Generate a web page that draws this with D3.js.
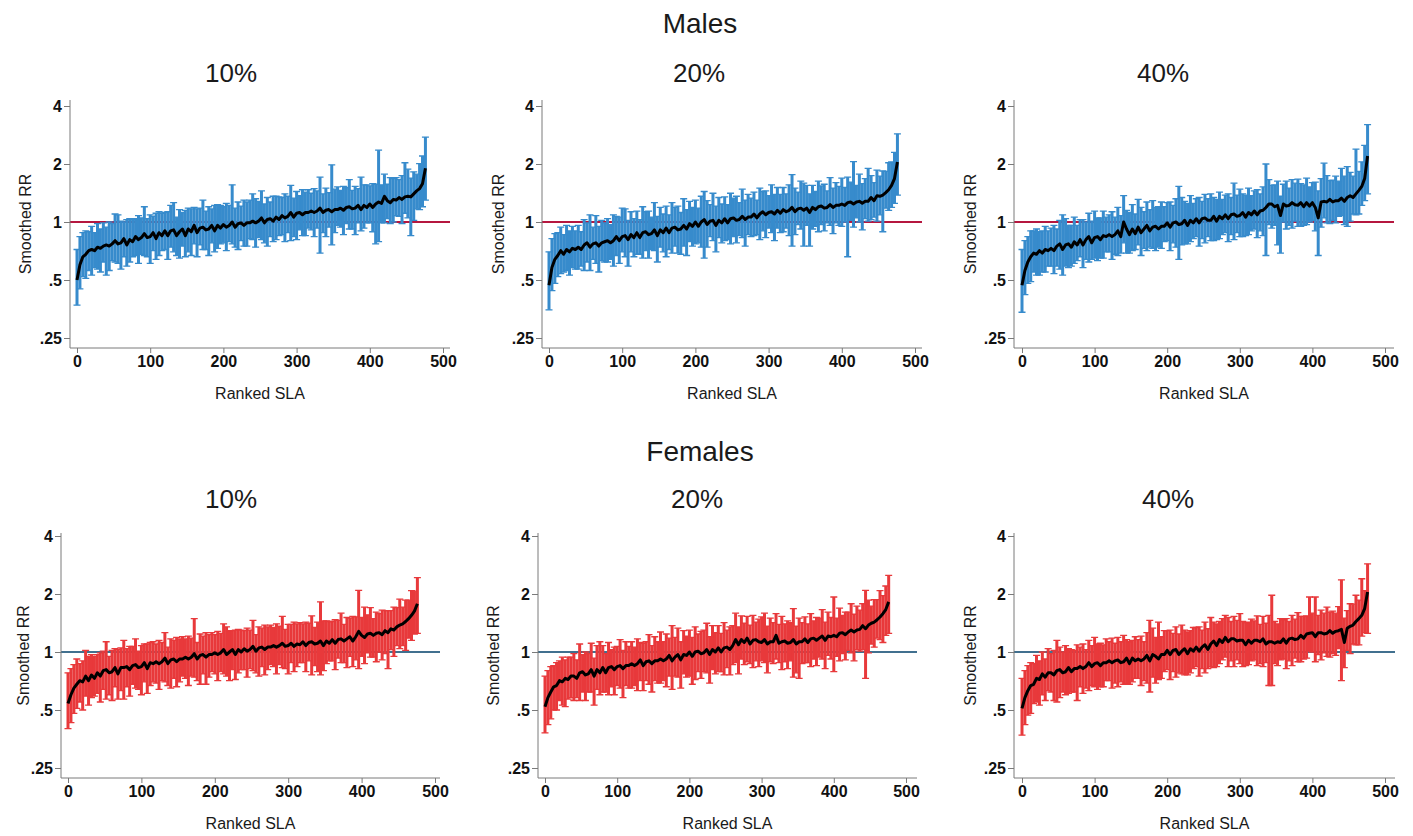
<!DOCTYPE html>
<html>
<head>
<meta charset="utf-8">
<script src="https://cdn.jsdelivr.net/npm/d3@7"></script>
<style>
  body { margin: 0; background: #fff; }
  svg { display: block; }
</style>
</head>
<body>
<svg id="chart" width="1413" height="836"></svg>
<script>
// ---------------------------------------------------------------------------
//  Data: smoothed RR and interval, one value every 4th ranked SLA
// ---------------------------------------------------------------------------
const rank = d3.range(0, 477, 4);
const xTicks = [0, 100, 200, 300, 400, 500];
const yTicks = [0.25, 0.5, 1, 2, 4];
const yTickLabels = ['.25', '.5', '1', '2', '4'];

// Males 10%
const m10Rr = [.50,.60,.66,.68,.71,.72,.71,.74,.73,.75,
  .76,.75,.77,.80,.77,.78,.82,.76,.81,.79,
  .84,.81,.83,.87,.83,.84,.88,.82,.88,.85,
  .90,.85,.90,.91,.85,.89,.92,.85,.92,.89,
  .96,.88,.93,.94,.91,.92,.96,.90,.96,.93,
  .97,.94,.96,1.00,.94,.98,.99,.96,.99,.99,
  1.01,.99,1.01,1.05,.99,1.03,1.04,1.01,1.06,1.03,
  1.08,1.05,1.07,1.12,1.06,1.11,1.12,1.09,1.12,1.12,
  1.14,1.12,1.14,1.18,1.12,1.15,1.16,1.13,1.16,1.16,
  1.18,1.15,1.19,1.20,1.17,1.18,1.22,1.16,1.22,1.19,
  1.24,1.19,1.24,1.27,1.25,1.36,1.29,1.26,1.31,1.30,
  1.34,1.31,1.35,1.36,1.35,1.40,1.45,1.49,1.58,1.90];
const m10Hi = [.72,.84,.88,.90,.89,.95,.88,.98,.92,.99,
  .94,1.00,.98,1.10,1.09,1.01,1.00,1.03,1.04,1.03,
  1.04,1.08,1.05,1.20,1.04,1.09,1.07,1.11,1.13,1.11,
  1.12,1.13,1.22,1.26,1.06,1.16,1.12,1.15,1.18,1.17,
  1.19,1.17,1.18,1.30,1.14,1.20,1.17,1.22,1.23,1.22,
  1.20,1.25,1.22,1.56,1.18,1.27,1.21,1.30,1.27,1.30,
  1.40,1.32,1.28,1.45,1.24,1.34,1.27,1.36,1.36,1.35,
  1.34,1.40,1.36,1.55,1.33,1.44,1.37,1.47,1.43,1.47,
  1.41,1.49,1.45,1.71,1.40,1.50,1.42,1.98,1.48,1.52,
  1.46,1.53,1.51,1.66,1.46,1.53,1.49,1.71,1.56,1.56,
  1.54,1.58,1.57,2.36,1.56,1.77,1.57,1.70,1.68,1.70,
  1.66,1.74,2.03,1.88,1.69,1.82,1.77,2.01,2.20,2.76];
const m10Lo = [.37,.45,.52,.51,.56,.53,.58,.57,.55,.62,
  .53,.56,.63,.62,.61,.57,.66,.59,.62,.66,
  .67,.61,.68,.67,.66,.61,.71,.64,.67,.71,
  .72,.64,.74,.70,.67,.65,.75,.66,.70,.67,
  .77,.66,.76,.72,.72,.67,.78,.70,.73,.77,
  .78,.71,.79,.77,.74,.72,.80,.75,.75,.82,
  .81,.74,.83,.81,.78,.75,.84,.79,.81,.85,
  .86,.79,.88,.80,.84,.81,.91,.85,.85,.93,
  .91,.84,.93,.69,.88,.84,.94,.76,.88,.96,
  .94,.86,.98,.92,.92,.86,.99,.90,.93,.99,
  .99,.89,.77,.79,.99,.99,1.04,.98,1.00,1.08,
  1.07,.98,1.11,1.05,.85,1.02,1.17,1.16,1.20,1.30];

// Males 20%
const m20Rr = [.47,.58,.64,.67,.71,.68,.72,.70,.73,.72,
  .74,.72,.76,.78,.74,.77,.78,.75,.78,.79,
  .80,.78,.80,.84,.80,.84,.85,.81,.86,.83,
  .88,.83,.88,.89,.86,.87,.91,.85,.91,.88,
  .93,.88,.93,.94,.91,.92,.96,.92,.98,.95,
  1.00,.95,1.00,1.03,.97,1.01,1.02,.96,1.02,.99,
  1.04,.99,1.04,1.05,1.02,1.03,1.07,1.03,1.06,1.06,
  1.10,1.05,1.10,1.13,1.09,1.12,1.13,1.10,1.15,1.11,
  1.16,1.13,1.15,1.19,1.13,1.17,1.18,1.15,1.18,1.12,
  1.19,1.16,1.20,1.21,1.18,1.19,1.23,1.19,1.22,1.22,
  1.24,1.22,1.26,1.27,1.24,1.27,1.28,1.25,1.28,1.28,
  1.34,1.29,1.37,1.36,1.38,1.42,1.47,1.55,1.68,2.05];
const m20Hi = [.70,.82,.87,.88,.94,.86,.96,.90,.95,.90,
  .96,.89,1.03,.99,1.09,.94,1.08,.95,1.02,.99,
  1.04,.97,1.09,1.07,1.06,1.18,1.17,1.02,1.13,1.04,
  1.14,1.03,1.20,1.13,1.14,1.06,1.26,1.07,1.19,1.10,
  1.21,1.09,1.26,1.19,1.21,1.12,1.32,1.16,1.28,1.19,
  1.30,1.18,1.36,1.44,1.29,1.23,1.41,1.21,1.34,1.24,
  1.35,1.23,1.41,1.33,1.36,1.26,1.48,1.30,1.39,1.33,
  1.43,1.30,1.50,1.44,1.45,1.37,1.56,1.39,1.51,1.39,
  1.51,1.40,1.56,1.76,1.50,1.43,1.63,1.59,1.55,1.40,
  1.55,1.44,1.63,1.54,1.57,1.45,1.70,1.50,1.60,1.53,
  1.69,1.51,1.71,1.61,2.06,1.55,1.77,1.58,1.68,1.90,
  1.74,1.60,1.86,1.73,1.84,1.83,2.03,2.05,2.30,2.87];
const m20Lo = [.35,.44,.48,.52,.54,.55,.56,.53,.58,.57,
  .57,.59,.56,.62,.56,.64,.61,.55,.63,.62,
  .62,.64,.59,.67,.61,.70,.66,.59,.70,.66,
  .68,.68,.65,.71,.65,.72,.71,.62,.74,.70,
  .66,.72,.69,.75,.69,.68,.75,.67,.79,.75,
  .77,.78,.74,.65,.74,.84,.80,.70,.83,.78,
  .80,.81,.77,.84,.78,.85,.83,.75,.86,.84,
  .85,.86,.81,.90,.83,.93,.88,.80,.93,.88,
  .89,.93,.85,.75,.86,.97,.92,.75,.96,.75,
  .92,.95,.89,.97,.90,.99,.96,.87,.99,.96,
  .95,1.00,.66,1.02,.94,1.05,1.00,.91,1.04,1.01,
  1.03,1.06,1.01,1.09,.89,1.18,1.15,1.19,1.25,1.38];

// Males 40%
const m40Rr = [.47,.56,.62,.66,.69,.68,.71,.69,.72,.71,
  .73,.71,.75,.77,.72,.76,.77,.74,.79,.76,
  .81,.76,.81,.84,.78,.83,.84,.81,.85,.84,
  .86,.84,.86,.90,.84,1.00,.92,.86,.92,.87,
  .94,.88,.92,.96,.90,.94,.95,.92,.95,.95,
  .99,.94,.99,1.00,.97,.98,1.02,.96,1.02,.99,
  1.04,.99,1.04,1.05,1.02,1.02,1.07,1.01,1.07,1.04,
  1.09,1.04,1.09,1.10,1.07,1.08,1.12,1.06,1.12,1.09,
  1.14,1.09,1.14,1.15,1.19,1.24,1.24,1.20,1.22,1.08,
  1.24,1.21,1.22,1.26,1.23,1.22,1.26,1.20,1.26,1.21,
  1.26,1.19,1.05,1.27,1.28,1.27,1.31,1.27,1.29,1.29,
  1.33,1.28,1.34,1.37,1.34,1.40,1.46,1.53,1.68,2.20];
const m40Hi = [.72,.80,.84,.90,.90,.92,.89,.90,.95,.90,
  .93,.96,.92,1.02,1.09,1.04,.96,.96,1.06,.96,
  1.03,1.03,1.00,1.11,1.01,1.14,1.05,1.05,1.14,1.06,
  1.09,1.13,1.06,1.19,1.08,1.37,1.15,1.12,1.23,1.10,
  1.31,1.19,1.13,1.27,1.16,1.29,1.19,1.20,1.27,1.20,
  1.26,1.27,1.22,1.32,1.53,1.34,1.28,1.25,1.37,1.25,
  1.32,1.34,1.28,1.39,1.32,1.40,1.34,1.31,1.43,1.31,
  1.38,1.40,1.34,1.59,1.38,1.48,1.40,1.38,1.50,1.37,
  1.45,1.47,1.40,1.52,2.00,1.66,1.55,1.56,1.63,1.36,
  1.57,1.63,1.50,1.66,1.59,1.67,1.58,1.56,1.69,1.52,
  1.60,1.61,1.45,1.68,2.02,1.74,1.64,1.65,1.73,1.63,
  1.90,1.73,1.94,1.81,1.73,2.39,1.83,2.05,2.50,3.20];
const m40Lo = [.34,.42,.48,.49,.55,.53,.53,.55,.55,.59,
  .59,.54,.59,.57,.53,.59,.58,.59,.61,.63,
  .66,.58,.64,.62,.64,.65,.63,.65,.65,.70,
  .70,.64,.68,.67,.69,.78,.69,.69,.71,.72,
  .76,.67,.73,.71,.74,.73,.71,.74,.73,.79,
  .80,.71,.78,.74,.64,.76,.77,.77,.79,.82,
  .84,.75,.82,.78,.84,.80,.80,.81,.82,.86,
  .88,.79,.86,.81,.88,.84,.84,.85,.86,.90,
  .92,.83,.90,.85,.67,.97,.93,.96,.76,.69,
  1.00,.92,.96,.93,1.01,.95,.95,.96,.97,1.00,
  1.02,.90,.67,.94,1.05,.99,.98,1.02,.99,1.07,
  1.08,.97,.95,1.01,1.10,1.09,1.10,1.22,1.29,1.40];

// Females 10%
const f10Rr = [.54,.60,.65,.68,.71,.70,.75,.71,.76,.73,
  .78,.75,.80,.81,.78,.79,.83,.77,.83,.83,
  .84,.81,.85,.86,.83,.84,.88,.82,.88,.87,
  .89,.87,.89,.93,.87,.91,.92,.89,.92,.92,
  .94,.92,.94,.98,.92,.96,.97,.94,.97,.97,
  .99,.97,.99,1.03,.97,1.00,1.03,.97,1.03,1.00,
  1.04,1.01,1.03,1.07,1.01,1.05,1.06,1.03,1.06,1.06,
  1.08,1.06,1.08,1.11,1.07,1.08,1.11,1.07,1.10,1.09,
  1.13,1.08,1.12,1.13,1.10,1.11,1.14,1.08,1.14,1.11,
  1.16,1.11,1.16,1.17,1.14,1.17,1.20,1.14,1.20,1.28,
  1.22,1.19,1.24,1.25,1.22,1.25,1.26,1.23,1.29,1.26,
  1.32,1.30,1.35,1.38,1.40,1.44,1.49,1.55,1.63,1.78];
const f10Hi = [.78,.82,.86,.92,.87,.90,1.02,.95,.97,.95,
  .97,.99,1.01,1.13,.95,1.02,1.04,1.03,1.05,1.15,
  1.04,1.07,1.07,1.17,1.01,1.08,1.10,1.10,1.12,1.13,
  1.10,1.15,1.12,1.26,1.06,1.17,1.15,1.19,1.17,1.20,
  1.17,1.21,1.18,1.49,1.12,1.24,1.21,1.26,1.23,1.26,
  1.23,1.28,1.25,1.40,1.35,1.29,1.29,1.30,1.31,1.30,
  1.29,1.33,1.30,1.46,1.23,1.35,1.33,1.38,1.35,1.38,
  1.34,1.40,1.36,1.53,1.31,1.39,1.39,1.43,1.40,1.42,
  1.40,1.43,1.41,1.54,1.34,1.43,1.82,1.45,1.45,1.44,
  1.44,1.47,1.46,1.59,1.39,1.51,1.50,1.53,1.52,2.09,
  1.51,1.71,1.56,1.70,1.49,1.61,1.58,1.65,1.64,1.64,
  1.64,1.71,1.70,1.88,1.71,1.86,1.86,2.08,2.07,2.43];
const f10Lo = [.40,.43,.48,.51,.55,.50,.59,.53,.58,.59,
  .61,.55,.64,.57,.60,.56,.66,.57,.63,.57,
  .66,.59,.68,.65,.64,.60,.70,.61,.67,.70,
  .69,.64,.71,.70,.67,.65,.73,.66,.70,.75,
  .73,.67,.75,.74,.71,.68,.77,.68,.74,.79,
  .77,.71,.79,.77,.75,.71,.81,.72,.78,.81,
  .81,.74,.82,.80,.78,.75,.84,.76,.81,.86,
  .84,.77,.86,.83,.82,.77,.88,.79,.84,.88,
  .88,.79,.90,.76,.85,.79,.76,.80,.87,.90,
  .90,.81,.93,.88,.88,.83,.95,.84,.91,.82,
  .95,.87,.99,.94,.94,.89,1.00,.91,.98,.82,
  1.03,.95,1.08,1.04,1.08,1.02,1.18,1.15,1.24,1.25];

// Females 20%
const f20Rr = [.52,.58,.62,.66,.67,.71,.70,.73,.72,.75,
  .75,.73,.78,.79,.76,.77,.81,.75,.81,.78,
  .83,.78,.83,.84,.81,.84,.85,.82,.85,.85,
  .87,.85,.87,.91,.85,.89,.90,.87,.90,.90,
  .92,.90,.92,.96,.90,.94,.97,.91,.97,.96,
  1.00,.95,1.00,1.01,.98,.99,1.03,.97,1.03,1.00,
  1.05,1.00,1.05,1.06,1.03,1.08,1.16,1.09,1.16,1.12,
  1.18,1.10,1.15,1.16,1.13,1.12,1.16,1.10,1.13,1.13,
  1.22,1.11,1.13,1.14,1.11,1.12,1.16,1.10,1.13,1.13,
  1.17,1.12,1.17,1.18,1.15,1.18,1.21,1.15,1.21,1.20,
  1.22,1.20,1.25,1.26,1.23,1.27,1.30,1.27,1.30,1.31,
  1.37,1.32,1.38,1.41,1.43,1.47,1.52,1.58,1.66,1.82];
const f20Hi = [.75,.80,.84,.85,.88,.90,.94,.91,.94,.94,
  .98,.91,1.10,.97,1.00,.98,1.11,.93,1.08,1.13,
  1.08,.98,1.12,1.03,1.06,1.07,1.16,1.02,1.13,1.07,
  1.13,1.06,1.17,1.12,1.11,1.13,1.23,1.08,1.20,1.13,
  1.27,1.13,1.24,1.18,1.37,1.19,1.33,1.13,1.29,1.21,
  1.30,1.19,1.35,1.24,1.28,1.30,1.41,1.20,1.37,1.26,
  1.37,1.25,1.42,1.30,1.35,1.37,1.59,1.35,1.54,1.41,
  1.53,1.38,1.55,1.43,1.48,1.52,1.59,1.36,1.50,1.42,
  1.58,1.39,1.53,1.40,1.45,1.42,1.68,1.36,1.50,1.42,
  1.52,1.40,1.58,1.45,1.51,1.50,1.66,1.43,1.61,1.51,
  1.93,1.50,1.69,1.55,1.61,1.61,1.78,1.57,1.73,1.65,
  1.78,2.09,1.86,1.73,1.87,1.87,2.08,1.96,2.20,2.50];
const f20Lo = [.38,.42,.45,.50,.50,.56,.53,.52,.57,.58,
  .56,.58,.56,.62,.56,.62,.62,.53,.64,.60,
  .62,.62,.60,.66,.60,.67,.65,.58,.67,.65,
  .65,.67,.63,.71,.63,.71,.68,.62,.71,.69,
  .69,.71,.66,.75,.64,.75,.74,.65,.77,.74,
  .75,.68,.72,.79,.73,.79,.78,.69,.81,.77,
  .79,.79,.76,.83,.76,.86,.88,.77,.92,.86,
  .89,.87,.83,.90,.84,.90,.88,.78,.89,.87,
  .92,.88,.81,.89,.82,.90,.74,.78,.73,.87,
  .88,.88,.84,.92,.85,.94,.92,.82,.96,.92,
  .79,.95,.90,.98,.91,1.02,.99,.90,1.03,1.01,
  1.03,.73,.99,1.10,1.06,1.18,1.16,1.12,1.22,1.25];

// Females 40%
const f40Rr = [.51,.58,.63,.67,.68,.73,.72,.77,.74,.78,
  .78,.76,.80,.81,.78,.79,.83,.79,.82,.82,
  .84,.82,.84,.88,.84,.87,.88,.85,.88,.88,
  .90,.88,.90,.91,.88,.89,.93,.87,.93,.90,
  .92,.90,.92,.96,.90,.97,.95,.92,.97,.97,
  1.02,.97,1.02,1.03,.97,1.01,1.04,.98,1.04,1.01,
  1.06,1.01,1.06,1.09,1.03,1.10,1.14,1.08,1.16,1.12,
  1.19,1.13,1.17,1.17,1.14,1.15,1.15,1.09,1.15,1.11,
  1.15,1.15,1.13,1.17,1.10,1.13,1.13,1.11,1.13,1.12,
  1.17,1.11,1.17,1.18,1.16,1.17,1.22,1.18,1.24,1.25,
  1.26,1.20,1.26,1.26,1.24,1.25,1.29,1.25,1.28,1.29,
  1.31,1.12,1.33,1.36,1.38,1.44,1.49,1.55,1.68,2.05];
const f40Hi = [.73,.80,.85,.88,.87,.96,.90,1.00,.92,1.04,
  .98,1.02,1.15,1.06,1.00,1.08,1.04,1.03,1.02,1.09,
  1.06,1.10,1.03,1.15,1.08,1.19,1.10,1.11,1.09,1.17,
  1.13,1.18,1.11,1.19,1.13,1.22,1.16,1.13,1.15,1.20,
  1.16,1.21,1.13,1.26,1.46,1.33,1.19,1.43,1.20,1.29,
  1.29,1.30,1.25,1.35,1.24,1.38,1.30,1.27,1.29,1.34,
  1.34,1.35,1.30,1.43,1.32,1.51,1.43,1.40,1.44,1.49,
  1.55,1.51,1.44,1.53,1.46,1.58,1.44,1.42,1.43,1.48,
  1.45,1.54,1.39,1.53,1.41,1.55,1.97,1.44,1.40,1.49,
  1.47,1.49,1.44,1.55,1.48,1.60,1.53,1.53,1.54,1.93,
  1.59,1.93,1.55,1.65,1.59,1.71,1.61,1.63,1.59,1.72,
  2.37,1.50,1.64,1.78,1.77,1.97,1.86,2.40,2.08,2.87];
const f40Lo = [.37,.42,.47,.48,.54,.55,.53,.60,.56,.63,
  .62,.56,.55,.58,.62,.60,.61,.62,.62,.56,
  .66,.61,.65,.63,.67,.66,.64,.66,.66,.71,
  .71,.65,.69,.66,.70,.68,.68,.68,.70,.73,
  .73,.67,.71,.69,.62,.74,.69,.72,.73,.79,
  .81,.72,.79,.74,.78,.77,.76,.76,.78,.82,
  .84,.75,.82,.78,.82,.84,.83,.84,.87,.91,
  .94,.84,.90,.84,.91,.87,.84,.85,.86,.90,
  .91,.85,.87,.84,.88,.67,.67,.87,.85,.91,
  .92,.82,.90,.85,.93,.89,.89,.92,.93,1.01,
  1.00,.89,.97,.91,.99,.95,.94,.98,.96,1.04,
  .71,.83,1.02,.98,1.10,1.09,1.09,1.21,1.26,1.25];

// ---------------------------------------------------------------------------
//  Layout
// ---------------------------------------------------------------------------
const font = "'Liberation Sans', Arial, Helvetica, sans-serif";
const tickFont = "'Liberation Sans Narrow', 'Arial Narrow', 'Liberation Sans', Arial, sans-serif";
const axisColor = '#7a7a7a';

const rows = [
  {name: 'Males',   titleY: 33,  subY: 82,  top: 100, y4: 106, y025: 338, bottom: 348, bar: '#378bcc', ref: '#b5173f'},
  {name: 'Females', titleY: 461, subY: 508, top: 533, y4: 536, y025: 768, bottom: 778, bar: '#e8393b', ref: '#41708f'}
];

const panels = [
  {row: 0, label: '10%', rr: m10Rr, hi: m10Hi, lo: m10Lo, axisX: 70,   x0: 77,   x500: 443,  right: 450,  subX: 231,  ylabX: 27},
  {row: 0, label: '20%', rr: m20Rr, hi: m20Hi, lo: m20Lo, axisX: 542,  x0: 549,  x500: 915,  right: 922,  subX: 699,  ylabX: 500},
  {row: 0, label: '40%', rr: m40Rr, hi: m40Hi, lo: m40Lo, axisX: 1014, x0: 1022, x500: 1385, right: 1394, subX: 1163, ylabX: 972},
  {row: 1, label: '10%', rr: f10Rr, hi: f10Hi, lo: f10Lo, axisX: 61,   x0: 68,   x500: 435,  right: 440,  subX: 231,  ylabX: 25},
  {row: 1, label: '20%', rr: f20Rr, hi: f20Hi, lo: f20Lo, axisX: 538,  x0: 545,  x500: 906,  right: 917,  subX: 697,  ylabX: 495},
  {row: 1, label: '40%', rr: f40Rr, hi: f40Hi, lo: f40Lo, axisX: 1014, x0: 1022, x500: 1385, right: 1395, subX: 1168, ylabX: 972}
];

const svg = d3.select('#chart');

rows.forEach(r => {
  svg.append('text')
     .attr('x', 700).attr('y', r.titleY)
     .attr('text-anchor', 'middle')
     .attr('font-family', font).attr('font-size', 28).attr('fill', '#1a1a1a')
     .text(r.name);
});

panels.forEach(p => {
  const r = rows[p.row];
  const g = svg.append('g');

  const x = d3.scaleLinear().domain([0, 500]).range([p.x0, p.x500]);
  const y = d3.scaleLog().domain([0.25, 4]).range([r.y025, r.y4]);

  // subtitle
  g.append('text')
   .attr('x', p.subX).attr('y', r.subY)
   .attr('text-anchor', 'middle')
   .attr('font-family', font).attr('font-size', 26).attr('fill', '#1a1a1a')
   .text(p.label);

  // reference line at RR = 1 (under the bars)
  g.append('line')
   .attr('x1', p.axisX).attr('x2', p.right)
   .attr('y1', y(1)).attr('y2', y(1))
   .attr('stroke', r.ref).attr('stroke-width', 2);

  const pts = rank.map((k, i) => ({k: k, rr: p.rr[i], hi: p.hi[i], lo: p.lo[i]}));

  // error bars
  const eb = g.append('g').attr('stroke', r.bar).attr('fill', 'none');
  eb.selectAll('line')
    .data(pts).join('line')
    .attr('x1', d => x(d.k)).attr('x2', d => x(d.k))
    .attr('y1', d => y(d.lo)).attr('y2', d => y(d.hi))
    .attr('stroke-width', 3);
  eb.selectAll('path')
    .data(pts).join('path')
    .attr('d', d => `M${x(d.k) - 3.5},${y(d.hi)}h7M${x(d.k) - 3.5},${y(d.lo)}h7`)
    .attr('stroke-width', 1.3);

  // smoothed RR
  g.append('path')
   .datum(pts)
   .attr('fill', 'none').attr('stroke', '#000')
   .attr('stroke-width', 3).attr('stroke-linejoin', 'round')
   .attr('d', d3.line().x(d => x(d.k)).y(d => y(d.rr)));

  // axes
  const xa = g.append('g')
    .attr('transform', `translate(0,${r.bottom})`)
    .call(d3.axisBottom(x).tickValues(xTicks).tickSize(5).tickPadding(3).tickSizeOuter(0));
  xa.select('.domain').attr('d', `M${p.axisX},0H${p.right}`);

  const ya = g.append('g')
    .attr('transform', `translate(${p.axisX},0)`)
    .call(d3.axisLeft(y).tickValues(yTicks).tickFormat((d, i) => yTickLabels[i]).tickSize(6).tickPadding(2));
  ya.select('.domain').attr('d', `M0,${r.top}V${r.bottom}`);

  [xa, ya].forEach(a => {
    a.attr('font-family', tickFont).attr('font-size', 16).attr('font-weight', 'bold');
    a.selectAll('.domain, .tick line').attr('stroke', axisColor);
    a.selectAll('.tick text').attr('fill', '#111');
  });

  // axis titles
  g.append('text')
   .attr('transform', `translate(${p.ylabX},${(r.top + r.bottom) / 2}) rotate(-90)`)
   .attr('text-anchor', 'middle').attr('dominant-baseline', 'middle')
   .attr('font-family', font).attr('font-size', 16).attr('fill', '#1a1a1a')
   .text('Smoothed RR');

  g.append('text')
   .attr('x', (p.axisX + p.right) / 2).attr('y', r.bottom + 51)
   .attr('text-anchor', 'middle')
   .attr('font-family', font).attr('font-size', 16).attr('fill', '#1a1a1a')
   .text('Ranked SLA');
});
</script>
</body>
</html>
